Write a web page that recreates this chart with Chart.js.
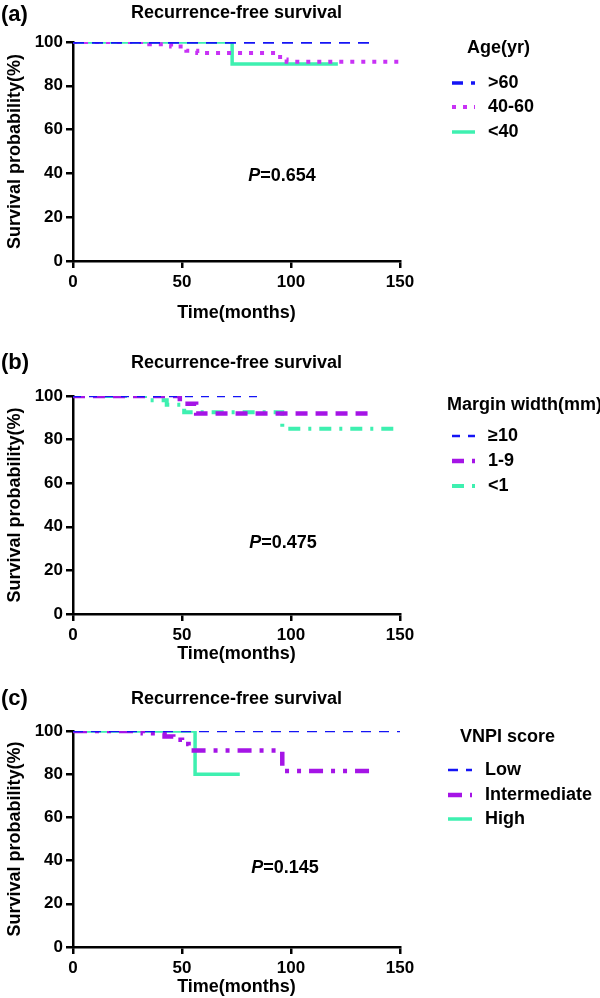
<!DOCTYPE html>
<html>
<head>
<meta charset="utf-8">
<title>Recurrence-free survival</title>
<script src="https://cdn.jsdelivr.net/npm/chart.js@4.4.1/dist/chart.umd.min.js"></script>
<style>
  body { margin: 0; background: #fff; }
  #wrap { position: relative; width: 600px; height: 998px; }
  canvas { position: absolute; left: 0; }
</style>
</head>
<body>
<div id="wrap">
  <canvas id="chartA" width="600" height="330" style="top:0px"></canvas>
  <canvas id="chartB" width="600" height="335" style="top:330px"></canvas>
  <canvas id="chartC" width="600" height="338" style="top:660px"></canvas>
</div>
<script>
var FONT = '"Liberation Sans", Arial, Helvetica, sans-serif';

// ---- data (months, survival %) ----
// (a) Age
var ageLabels = ['>60', '40-60', '<40'];
var ageOldTime = [0, 138.5];
var ageOldSurv = [100, 100];
var ageMidTime = [0, 35, 45, 52, 57, 95, 98, 150];
var ageMidSurv = [100, 99, 98, 96, 95, 92, 91, 91];
var ageYoungTime = [0, 73, 121.5];
var ageYoungSurv = [100, 90, 90];

// (b) Margin width
var marginLabels = ['\u226510', '1-9', '<1'];
var marginWideTime = [0, 86.5];
var marginWideSurv = [100, 100];
var marginMidTime = [0, 49, 56.5, 138];
var marginMidSurv = [100, 96.5, 92, 92];
var marginCloseTime = [0, 33, 43, 51, 96, 150];
var marginCloseSurv = [100, 98, 96, 92.5, 85, 85];

// (c) VNPI score
var vnpiLabels = ['Low', 'Intermediate', 'High'];
var vnpiLowTime = [0, 150];
var vnpiLowSurv = [100, 100];
var vnpiMidTime = [0, 32, 42, 46, 50, 53, 96, 137];
var vnpiMidSurv = [100, 99, 97.5, 96, 94, 91, 81.5, 81.5];
var vnpiHighTime = [0, 56, 76.5];
var vnpiHighSurv = [100, 80, 80];

var xTicks = [0, 50, 100, 150];
var yTicks = [0, 20, 40, 60, 80, 100];

function pts(t, s) {
  return t.map(function (v, i) { return { x: v, y: s[i] }; });
}

function line(label, t, s, color, width, dash) {
  return {
    label: label,
    data: pts(t, s),
    borderColor: color,
    backgroundColor: color,
    borderWidth: width,
    borderDash: dash,
    stepped: 'before',
    pointRadius: 0,
    fill: false
  };
}

// titles, panel letter, P value and legend
var decor = {
  id: 'decor',
  afterDraw: function (chart, args, o) {
    var ctx = chart.ctx;
    var area = chart.chartArea;
    ctx.save();
    ctx.fillStyle = '#000';
    ctx.textBaseline = 'middle';

    ctx.textAlign = 'left';
    ctx.font = 'bold 22px ' + FONT;
    ctx.fillText(o.letter, 1, o.letterY);

    ctx.textAlign = 'center';
    ctx.font = 'bold 18px ' + FONT;
    ctx.fillText('Recurrence-free survival', (area.left + area.right) / 2, o.titleY);

    // P=...
    ctx.textAlign = 'left';
    ctx.font = 'italic bold 18px ' + FONT;
    var pw = ctx.measureText('P').width;
    ctx.font = 'bold 18px ' + FONT;
    var rest = '=' + o.p;
    var rw = ctx.measureText(rest).width;
    var x0 = o.pX - (pw + rw) / 2;
    ctx.font = 'italic bold 18px ' + FONT;
    ctx.fillText('P', x0, o.pY);
    ctx.font = 'bold 18px ' + FONT;
    ctx.fillText(rest, x0 + pw, o.pY);

    // legend
    ctx.fillText(o.legendTitle, o.legendTitleX, o.legendTitleY);
    chart.data.datasets.forEach(function (ds, i) {
      var y = o.legendY[i];
      ctx.save();
      ctx.strokeStyle = ds.borderColor;
      ctx.lineWidth = ds.borderWidth;
      ctx.setLineDash(ds.borderDash || []);
      ctx.beginPath();
      ctx.moveTo(o.lineX0, y);
      ctx.lineTo(o.lineX1, y);
      ctx.stroke();
      ctx.restore();
      ctx.fillText(ds.label, o.textX, y);
    });
    ctx.restore();
  }
};

function scales(xHeight) {
  var tickFont = { family: FONT, size: 17, weight: 'bold' };
  var titleFont = { family: FONT, size: 18, weight: 'bold' };
  var grid = { drawOnChartArea: false, drawTicks: true, tickLength: 7, color: '#000', lineWidth: 2.5 };
  var border = { color: '#000', width: 2.5 };
  return {
    x: {
      type: 'linear', min: 0, max: 150,
      afterBuildTicks: function (s) { s.ticks = xTicks.map(function (v) { return { value: v }; }); },
      ticks: { color: '#000', font: tickFont, padding: 4, maxRotation: 0 },
      grid: grid, border: border,
      title: { display: true, text: 'Time(months)', color: '#000', font: titleFont, padding: 0 },
      afterFit: function (s) { s.height = xHeight; }
    },
    y: {
      type: 'linear', min: 0, max: 100,
      afterBuildTicks: function (s) { s.ticks = yTicks.map(function (v) { return { value: v }; }); },
      ticks: { color: '#000', font: tickFont, padding: 3 },
      grid: grid, border: border,
      title: { display: true, text: 'Survival probability(%)', color: '#000', font: titleFont, padding: { top: 4, bottom: 0 } },
      afterFit: function (s) { s.width = 73; }
    }
  };
}

function makeChart(id, datasets, top, bottom, xHeight, deco) {
  return new Chart(document.getElementById(id), {
    type: 'line',
    data: { datasets: datasets },
    options: {
      responsive: false,
      animation: false,
      devicePixelRatio: 1,
      layout: { padding: { left: 0, right: 200, top: top, bottom: bottom } },
      scales: scales(xHeight),
      plugins: { legend: { display: false }, tooltip: { enabled: false }, decor: deco }
    },
    plugins: [decor]
  });
}

var BLUE = '#1414f5';
var MAGENTA = '#c832f5';
var PURPLE = '#a514e6';
var GREEN = '#3ef0b0';

makeChart('chartA', [
  line(ageLabels[0], ageOldTime, ageOldSurv, BLUE, 3.5, [11, 8]),
  line(ageLabels[1], ageMidTime, ageMidSurv, MAGENTA, 4, [4, 7]),
  line(ageLabels[2], ageYoungTime, ageYoungSurv, GREEN, 3.5, [])
], 42, 6, 63, {
  letter: '(a)', letterY: 15, titleY: 13, p: '0.654', pX: 282, pY: 176,
  legendTitle: 'Age(yr)', legendTitleX: 467, legendTitleY: 48,
  legendY: [83, 107, 132], lineX0: 452, lineX1: 475, textX: 488
});

makeChart('chartB', [
  line(marginLabels[0], marginWideTime, marginWideSurv, BLUE, 2.5, [8, 8]),
  line(marginLabels[1], marginMidTime, marginMidSurv, PURPLE, 4.5, [12, 8]),
  line(marginLabels[2], marginCloseTime, marginCloseSurv, GREEN, 4, [12, 8, 3, 8])
], 66, 0, 51, {
  letter: '(b)', letterY: 33, titleY: 33, p: '0.475', pX: 283, pY: 213,
  legendTitle: 'Margin width(mm)', legendTitleX: 447, legendTitleY: 75,
  legendY: [106, 131, 156], lineX0: 452, lineX1: 475, textX: 488
});

makeChart('chartC', [
  line(vnpiLabels[0], vnpiLowTime, vnpiLowSurv, BLUE, 2.5, [10, 8]),
  line(vnpiLabels[1], vnpiMidTime, vnpiMidSurv, PURPLE, 4.5, [14, 8, 4, 8, 4, 8]),
  line(vnpiLabels[2], vnpiHighTime, vnpiHighSurv, GREEN, 3.5, [])
], 71, 0, 51, {
  letter: '(c)', letterY: 39, titleY: 39, p: '0.145', pX: 285, pY: 208,
  legendTitle: 'VNPI score', legendTitleX: 460, legendTitleY: 77,
  legendY: [110, 135, 159], lineX0: 448, lineX1: 472, textX: 485
});
</script>
</body>
</html>
